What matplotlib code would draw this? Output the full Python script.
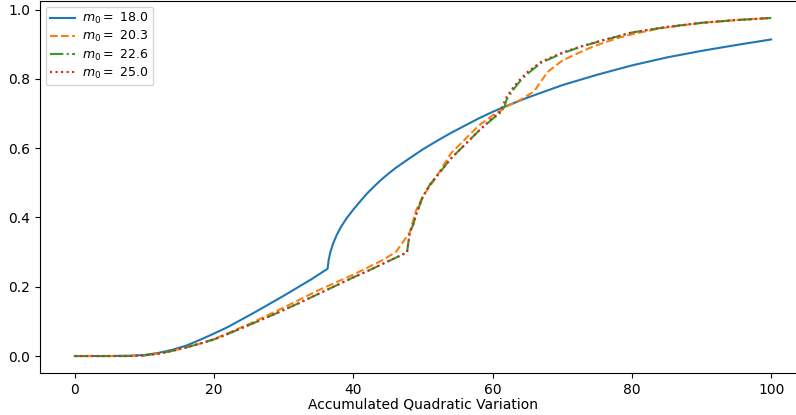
import numpy as np
import matplotlib
matplotlib.use('Agg')
import matplotlib.pyplot as plt

# values
x_18 = [0, 5, 8, 10, 12, 14, 16, 18, 20, 22, 24, 26, 28, 30, 32, 34, 36.3,
        36.45, 36.7, 37.1, 37.6, 38.2, 39, 40, 41, 42, 43, 44, 45, 46, 47, 48, 50, 52, 54,
        56, 58, 60, 62, 65, 70, 75, 80, 85, 90, 95, 100]
y_18 = [0, 0, 0.001, 0.003, 0.009, 0.018, 0.030, 0.047, 0.065, 0.084, 0.106, 0.128, 0.151, 0.174,
        0.198, 0.222, 0.252, 0.277, 0.300, 0.325, 0.349, 0.372, 0.397, 0.423, 0.447, 0.470,
        0.490, 0.509, 0.526, 0.542, 0.556, 0.570, 0.597, 0.621, 0.644, 0.665, 0.686, 0.705,
        0.722, 0.746, 0.782, 0.812, 0.839, 0.862, 0.881, 0.898, 0.914]

x_20 = [0, 5, 8, 10, 12, 14, 16, 18, 20, 25, 30, 35, 40, 44, 46.1, 48.1, 49, 50, 51, 52, 54,
        56, 58, 60, 61, 62, 63, 64, 65, 66, 67, 68, 70, 72, 74, 76, 78, 80, 84, 90, 95, 100]
y_20 = [0, 0, 0, 0.002, 0.007, 0.015, 0.025, 0.036, 0.049, 0.092, 0.14, 0.19, 0.235, 0.275,
        0.30, 0.357, 0.42, 0.463, 0.49, 0.52, 0.585, 0.625, 0.665, 0.695, 0.706, 0.72, 0.73,
        0.74, 0.752, 0.765, 0.795, 0.822, 0.853, 0.872, 0.89, 0.905, 0.918, 0.929, 0.946,
        0.962, 0.970, 0.976]

x_22 = [0, 5, 8, 10, 12, 14, 16, 18, 20, 22, 24, 26, 28, 30, 32, 34, 36, 38, 40, 42, 44, 46,
        47.7, 48.1, 48.6, 49.1, 50, 51, 52, 54, 56, 58, 60, 61, 61.7, 62, 63, 64, 65, 67, 70,
        73, 76, 80, 85, 90, 95, 100]
y_22 = [0, 0, 0, 0.002, 0.007, 0.015, 0.025, 0.036, 0.048, 0.064, 0.081, 0.098, 0.115, 0.133,
        0.151, 0.170, 0.189, 0.208, 0.227, 0.245, 0.264, 0.283, 0.299, 0.356, 0.38, 0.413,
        0.461, 0.495, 0.52, 0.57, 0.61, 0.65, 0.685, 0.70, 0.72, 0.74, 0.77, 0.795, 0.815,
        0.847, 0.874, 0.895, 0.912, 0.934, 0.950, 0.962, 0.970, 0.976]

x_25 = [0, 5, 8, 10, 12, 14, 16, 18, 20, 22, 24, 26, 28, 30, 32, 34, 36, 38, 40, 42, 44, 46,
        47.7, 48.1, 48.6, 49.1, 50, 51, 52, 54, 56, 58, 60, 61, 61.6, 62, 63, 64, 65, 67, 70,
        73, 76, 80, 85, 90, 95, 100]
y_25 = [0, 0, 0, 0.002, 0.007, 0.015, 0.025, 0.036, 0.048, 0.064, 0.081, 0.098, 0.115, 0.133,
        0.151, 0.170, 0.189, 0.208, 0.227, 0.245, 0.264, 0.283, 0.299, 0.356, 0.38, 0.413,
        0.461, 0.495, 0.52, 0.57, 0.61, 0.65, 0.688, 0.705, 0.73, 0.748, 0.777, 0.80, 0.82,
        0.85, 0.876, 0.896, 0.913, 0.934, 0.950, 0.962, 0.970, 0.976]

m0_labels = ['18.0', '20.3', '22.6', '25.0']

fig = plt.figure(figsize=(7.96, 4.15), dpi=100)
ax = fig.add_axes([40 / 796, 42 / 415, 766 / 796, 372 / 415])

ax.plot(x_18, y_18, '-', color='C0', label=r'$m_0 = $ ' + m0_labels[0])
ax.plot(x_20, y_20, '--', color='C1', label=r'$m_0 = $ ' + m0_labels[1])
ax.plot(x_22, y_22, '-.', color='C2', label=r'$m_0 = $ ' + m0_labels[2])
ax.plot(x_25, y_25, ':', color='C3', label=r'$m_0 = $ ' + m0_labels[3])

ax.set_xlim(-5, 105)
ax.set_ylim(-0.049, 1.025)
ax.set_xlabel('Accumulated Quadratic Variation', labelpad=0.5)
ax.legend(loc='upper left', fontsize=9, handlelength=2.0, handletextpad=0.6,
          labelspacing=0.25, borderpad=0.35, borderaxespad=0.45)

fig.savefig('out.png', dpi=100)
